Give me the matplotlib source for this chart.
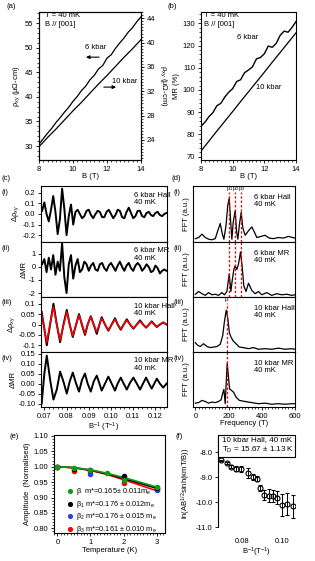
import matplotlib
matplotlib.use('Agg')
import matplotlib.pyplot as plt
from matplotlib.patches import Rectangle
from matplotlib.ticker import MultipleLocator, FormatStrFormatter

plt.rcParams['font.family'] = ['Liberation Sans', 'DejaVu Sans']
plt.rcParams['mathtext.default'] = 'regular'
plt.rcParams['font.size'] = 5.5
plt.rcParams['axes.linewidth'] = 0.8

# (a) Hall resistivity
b_field = [8.0, 8.25, 8.5, 8.75, 9.0, 9.25, 9.5, 9.75, 10.0, 10.25, 10.5, 10.75, 11.0,
           11.25, 11.5, 11.75, 12.0, 12.25, 12.5, 12.75, 13.0, 13.25, 13.5, 13.75, 14.0]
rho_6kbar = [30.4, 31.5, 32.6, 33.6, 34.8, 35.8, 36.9, 37.9, 39.1, 40.1, 41.3, 42.2, 43.5,
             44.4, 45.7, 46.4, 47.9, 48.6, 49.9, 51.0, 52.0, 53.2, 54.1, 55.3, 56.3]
b_field_10 = [8.0, 8.5, 9.0, 9.5, 10.0, 10.5, 11.0, 11.5, 12.0, 12.5, 13.0, 13.5, 14.0]
rho_10kbar = [22.9, 24.4, 25.8, 27.3, 28.8, 30.2, 31.7, 33.2, 34.6, 36.1, 37.6, 39.0, 40.5]

# (b) magnetoresistance
mr_6kbar = [83.7, 85.5, 88.0, 89.8, 92.9, 94.0, 96.8, 99.0, 100.6, 103.8, 104.6, 107.8, 109.0,
            110.4, 114.0, 114.6, 116.3, 119.8, 119.2, 121.0, 124.6, 126.5, 126.0, 128.2, 130.8]
mr_10kbar = [72.5, 77.0, 81.5, 85.9, 90.3, 94.8, 99.2, 103.6, 108.0, 112.5, 116.9, 121.3, 125.7]

# (c) oscillations vs inverse field
inv_b = [0.069, 0.070, 0.071, 0.072, 0.073, 0.074, 0.075, 0.076, 0.077, 0.078, 0.079, 0.080,
         0.081, 0.082, 0.083, 0.084, 0.085, 0.086, 0.087, 0.088, 0.089, 0.090, 0.091, 0.092,
         0.093, 0.094, 0.095, 0.096, 0.097, 0.098, 0.099, 0.100, 0.101, 0.102, 0.103, 0.104,
         0.105, 0.106, 0.107, 0.108, 0.109, 0.110, 0.111, 0.112, 0.113, 0.114, 0.115, 0.116,
         0.117, 0.118, 0.119, 0.120, 0.121, 0.122, 0.123, 0.124, 0.125]
d_rho_6kbar = [0.03, 0.11, 0.00, -0.07, 0.04, 0.17, 0.02, -0.19, -0.05, 0.24, 0.05, -0.20,
               -0.02, 0.09, -0.10, 0.02, 0.04, 0.00, -0.04, -0.02, 0.03, 0.04, -0.01, -0.04,
               0.00, 0.03, 0.02, -0.03, -0.03, 0.02, 0.04, 0.00, -0.04, -0.01, 0.04, 0.03,
               -0.03, -0.04, 0.02, 0.06, 0.01, -0.04, -0.02, 0.03, 0.03, -0.02, -0.03, 0.01,
               0.02, -0.01, -0.02, 0.01, 0.02, -0.01, -0.02, 0.00, 0.01]
d_mr_6kbar = [0.2, 0.6, -0.4, 0.7, -0.2, 0.9, -0.6, 0.4, -0.3, 1.8, -0.8, -2.0,
              0.2, 0.9, -0.9, 0.1, 0.6, -0.4, -0.2, 0.4, 0.2, -0.3, 0.1, 0.3,
              -0.2, -0.3, 0.2, 0.3, -0.1, -0.3, 0.1, 0.3, 0.0, -0.3, 0.1, 0.4,
              0.0, -0.3, 0.1, 0.3, -0.1, -0.3, 0.1, 0.3, 0.1, -0.3, -0.1, 0.2,
              0.0, -0.4, -0.3, 0.1, -0.1, -0.5, -0.3, -0.2, -0.3]
inv_b_10 = [0.0688, 0.0700, 0.0711, 0.0726, 0.0741, 0.0756, 0.0771, 0.0786, 0.0801, 0.0814,
            0.0828, 0.0843, 0.0856, 0.0870, 0.0883, 0.0895, 0.0909, 0.0922, 0.0936, 0.0948,
            0.0958, 0.0973, 0.0988, 0.1003, 0.1018, 0.1030, 0.1044, 0.1057, 0.1071, 0.1086,
            0.1101, 0.1116, 0.1131, 0.1144, 0.1158, 0.1171, 0.1183, 0.1195, 0.1206, 0.1220,
            0.1235, 0.1250]
d_rho_10kbar = [0.06, -0.02, -0.10, 0.00, 0.10, 0.00, -0.085, 0.00, 0.07, 0.00,
                -0.06, 0.00, 0.05, -0.005, -0.05, 0.00, 0.04, 0.00, -0.045, 0.00,
                0.035, 0.00, -0.03, 0.00, 0.03, 0.00, -0.025, 0.00, 0.025, 0.00,
                -0.02, 0.00, 0.02, 0.00, -0.015, 0.00, 0.015, 0.00, -0.012, 0.00,
                0.01, 0.00]
fit_rho_10kbar = [0.05, -0.02, -0.085, 0.005, 0.085, 0.00, -0.075, -0.005, 0.06, 0.00,
                  -0.055, 0.00, 0.045, 0.00, -0.045, 0.00, 0.038, 0.00, -0.035, 0.00,
                  0.03, 0.00, -0.028, 0.00, 0.025, 0.00, -0.022, 0.00, 0.02, 0.00,
                  -0.018, 0.00, 0.016, 0.00, -0.014, 0.00, 0.013, 0.00, -0.011, 0.00,
                  0.01, 0.00]
d_mr_10kbar = [-0.10, 0.05, 0.14, 0.02, -0.08, -0.03, 0.06, 0.01, -0.05, 0.01,
               0.055, 0.00, -0.04, 0.02, 0.05, 0.00, -0.04, 0.01, 0.04, 0.00,
               -0.035, 0.00, 0.035, 0.00, -0.035, 0.00, 0.03, 0.00, -0.03, 0.005,
               0.03, 0.00, -0.03, 0.00, 0.03, 0.00, -0.025, 0.00, 0.025, 0.00,
               -0.02, 0.00]

# (d) FFT spectra
f_6h = [0, 20, 40, 60, 80, 100, 120, 135, 150, 162, 172, 185, 195, 204, 212, 220, 228, 240,
        248, 256, 265, 276, 286, 300, 320, 340, 355, 370, 395, 420, 445, 470, 500, 530, 560, 600]
fft_6h = [0.06, 0.08, 0.14, 0.08, 0.05, 0.04, 0.06, 0.2, 0.33, 0.15, 0.05, 0.3, 0.65, 0.78,
          0.4, 0.05, 0.35, 0.56, 0.2, 0.05, 0.3, 0.53, 0.25, 0.12, 0.2, 0.27, 0.18, 0.08, 0.1,
          0.12, 0.07, 0.06, 0.08, 0.07, 0.1, 0.07]
f_6m = [0, 20, 40, 60, 80, 100, 120, 140, 160, 175, 190, 204, 214, 222, 232, 240, 250, 260,
        272, 282, 292, 305, 320, 340, 360, 380, 400, 430, 460, 490, 520, 550, 580, 600]
fft_6m = [0.05, 0.1, 0.06, 0.03, 0.08, 0.04, 0.05, 0.03, 0.08, 0.04, 0.1, 0.42, 0.1, 0.3,
          0.5, 0.57, 0.5, 0.6, 0.82, 0.55, 0.2, 0.1, 0.25, 0.12, 0.06, 0.1, 0.04, 0.08, 0.03,
          0.06, 0.04, 0.05, 0.03, 0.04]
f_10h = [0, 15, 30, 50, 70, 90, 110, 130, 150, 165, 175, 186, 196, 205, 215, 228, 245, 265,
         290, 320, 350, 380, 420, 460, 500, 540, 580, 600]
fft_10h = [0.17, 0.12, 0.1, 0.15, 0.1, 0.08, 0.09, 0.1, 0.14, 0.3, 0.55, 0.76, 0.6, 0.35,
           0.27, 0.2, 0.15, 0.09, 0.08, 0.06, 0.08, 0.05, 0.06, 0.05, 0.07, 0.05, 0.06, 0.05]
f_10m = [0, 20, 40, 60, 80, 100, 120, 140, 155, 165, 172, 180, 186, 192, 198, 206, 218, 230,
         245, 265, 300, 340, 380, 420, 460, 500, 540, 580, 600]
fft_10m = [0.07, 0.08, 0.12, 0.1, 0.07, 0.09, 0.08, 0.1, 0.13, 0.25, 0.32, 0.06, 0.45, 0.8,
           0.6, 0.33, 0.3, 0.27, 0.18, 0.12, 0.1, 0.08, 0.06, 0.07, 0.05, 0.06, 0.05, 0.06, 0.06]
peaks_6kbar = [204, 240, 276]
peaks_6kbar_names = ['$β_1$', '$β_2$', '$β_3$']
peak_10kbar = 190

# (e) amplitude vs temperature
t_beta = [0, 0.5, 1.0, 1.5, 2.0, 3.0]
amp_beta = [1.0, 0.995, 0.99, 0.98, 0.958, 0.935]
t_beta1 = [0, 0.5, 1.0, 2.0, 3.0]
amp_beta1 = [1.0, 0.993, 0.99, 0.97, 0.932]
t_beta2 = [0, 1.0, 2.0, 3.0]
amp_beta2 = [1.0, 0.976, 0.962, 0.925]
t_beta3 = [0, 0.5, 1.0, 2.0, 3.0]
amp_beta3 = [1.0, 0.986, 0.986, 0.946, 0.927]
t_fit = [0, 0.5, 1.0, 1.5, 2.0, 2.5, 3.0]
fit_beta = [1.0, 0.997, 0.99, 0.979, 0.965, 0.95, 0.934]
fit_beta1 = [1.0, 0.997, 0.989, 0.977, 0.962, 0.946, 0.93]
fit_beta3 = [1.0, 0.997, 0.988, 0.975, 0.958, 0.94, 0.922]
legend_e = ['β  m*=0.165± 0.011m$_e$', '$β_1$ m*=0.176 ± 0.012m$_e$',
            '$β_2$ m*=0.176 ± 0.015 m$_e$', '$β_3$ m*=0.161 ± 0.010 m$_e$']

# (f) Dingle plot
inv_b_f = [0.0697, 0.0725, 0.0747, 0.0772, 0.0795, 0.0833, 0.0858, 0.0875, 0.0892, 0.0912,
           0.0938, 0.0958, 0.0978, 0.1000, 0.1025, 0.1055]
dingle = [-8.33, -8.45, -8.58, -8.67, -8.66, -8.83, -9.0, -9.07, -9.45, -9.72, -9.74, -9.76,
          -9.82, -10.12, -10.08, -10.17]
dingle_err = [0.03, 0.04, 0.06, 0.1, 0.12, 0.2, 0.12, 0.1, 0.12, 0.2, 0.25, 0.25, 0.25,
              0.45, 0.45, 0.45]

W, H = 315.0, 561.0
fig = plt.figure(figsize=(W / 100, H / 100), dpi=100)


def box(l, t, r, b):
    return [l / W, 1 - b / H, (r - l) / W, (b - t) / H]


def ptext(x, y, s, **kw):
    fig.text(x / W, 1 - y / H, s, va='center', **kw)


def ticks(ax):
    ax.tick_params(which='major', length=2.5, width=0.6, pad=1.5, labelsize=5.5)
    ax.tick_params(which='minor', length=1.3, width=0.5)


# ---- (a)
ax_a = fig.add_axes(box(39, 12, 141, 160))
ax_a.plot(b_field, rho_6kbar, color='k', lw=0.9)
ax_a.set_xlim(8, 14)
ax_a.set_ylim(27.15, 57.3)
ax_a.xaxis.set_major_locator(MultipleLocator(2))
ax_a.xaxis.set_minor_locator(MultipleLocator(0.25))
ax_a.yaxis.set_major_locator(MultipleLocator(5))
ax_a.yaxis.set_minor_locator(MultipleLocator(1))
ax_a.set_xlabel('B (T)', labelpad=0)
ax_a.set_ylabel('ρ$_{xy}$ (μΩ-cm)', labelpad=2)
ticks(ax_a)
ax_a2 = ax_a.twinx()
ax_a2.plot(b_field_10, rho_10kbar, color='k', lw=0.9)
ax_a2.set_ylim(20.71, 45.04)
ax_a2.yaxis.set_major_locator(MultipleLocator(4))
ax_a2.yaxis.set_minor_locator(MultipleLocator(0.5))
ax_a2.set_ylabel('ρ$_{xy}$ (μΩ-cm)', rotation=270, va='bottom', labelpad=2)
ticks(ax_a2)
ax_a.text(0.06, 0.975, 'T = 40 mK', transform=ax_a.transAxes, va='center')
ax_a.text(0.06, 0.915, 'B // [001]', transform=ax_a.transAxes, va='center')
ax_a.annotate('', xy=(10.6, 48.1), xytext=(11.7, 48.1),
              arrowprops=dict(arrowstyle='-|>', lw=0.8, color='k', mutation_scale=5))
ax_a.text(10.7, 50.0, '6 kbar', va='center')
ax_a.annotate('', xy=(12.7, 42.0), xytext=(11.65, 42.0),
              arrowprops=dict(arrowstyle='-|>', lw=0.8, color='k', mutation_scale=5))
ax_a.text(12.3, 43.1, '10 kbar', va='center')

# ---- (b)
ax_b = fig.add_axes(box(201, 12, 296, 160))
ax_b.plot(b_field, mr_6kbar, color='k', lw=1.0)
ax_b.plot(b_field_10, mr_10kbar, color='k', lw=0.9)
ax_b.set_xlim(8, 14)
ax_b.set_ylim(68.5, 135.1)
ax_b.xaxis.set_major_locator(MultipleLocator(2))
ax_b.xaxis.set_minor_locator(MultipleLocator(0.25))
ax_b.yaxis.set_major_locator(MultipleLocator(10))
ax_b.yaxis.set_minor_locator(MultipleLocator(2))
ax_b.set_xlabel('B (T)', labelpad=0)
ax_b.set_ylabel('MR (%)', labelpad=2)
ticks(ax_b)
ax_b.text(0.03, 0.975, 'T = 40 mK', transform=ax_b.transAxes, va='center')
ax_b.text(0.03, 0.915, 'B // [001]', transform=ax_b.transAxes, va='center')
ax_b.text(10.3, 123.5, '6 kbar', va='center')
ax_b.text(11.5, 101.0, '10 kbar', va='center')

# ---- (c)
rows = [(186, 242), (242, 297), (297, 352), (352, 407)]
c_x = [inv_b, inv_b, inv_b_10, inv_b_10]
c_y = [d_rho_6kbar, d_mr_6kbar, d_rho_10kbar, d_mr_10kbar]
c_lim = [(-0.265, 0.265), (-2.3, 1.9), (-0.132, 0.132), (-0.117, 0.158)]
c_ticks = [[-0.2, -0.1, 0.0, 0.1, 0.2], [-2, -1, 0, 1], [-0.1, -0.05, 0, 0.05, 0.1],
           [-0.10, -0.05, 0.00, 0.05, 0.10, 0.15]]
c_fmt = ['%.1f', '%d', None, '%.2f']
c_lab = ['Δρ$_{xy}$', 'ΔMR', 'Δρ$_{xy}$', 'ΔMR']
c_txt = ['6 kbar Hall', '6 kbar MR', '10 kbar Hall', '10 kbar MR']
row_names = ['(i)', '(ii)', '(iii)', '(iv)']
for i in range(4):
    ax = fig.add_axes(box(41, rows[i][0], 167, rows[i][1]))
    ax.plot(c_x[i], c_y[i], color='k', lw=1.4)
    if i == 2:
        ax.plot(inv_b_10, fit_rho_10kbar, color='red', lw=1.1)
    ax.set_xlim(0.0685, 0.1252)
    ax.set_ylim(*c_lim[i])
    ax.set_yticks(c_ticks[i])
    if c_fmt[i]:
        ax.yaxis.set_major_formatter(FormatStrFormatter(c_fmt[i]))
    else:
        ax.set_yticklabels(['-0.1', '-0.05', '0', '0.05', '0.1'])
    ax.xaxis.set_major_locator(MultipleLocator(0.01))
    ax.xaxis.set_minor_locator(MultipleLocator(0.002))
    ax.xaxis.set_major_formatter(FormatStrFormatter('%.2f'))
    ticks(ax)
    ax.set_ylabel(c_lab[i], labelpad=1)
    if i < 3:
        ax.tick_params(labelbottom=False)
    else:
        ax.set_xlabel('B$^{-1}$ (T$^{-1}$)', labelpad=1)
    ax.text(0.74, 0.9, c_txt[i] + '\n40 mK', transform=ax.transAxes, va='top',
            linespacing=1.1, clip_on=False)
    ptext(2, rows[i][0] + 6, row_names[i])

# ---- (d)
d_f = [f_6h, f_6m, f_10h, f_10m]
d_a = [fft_6h, fft_6m, fft_10h, fft_10m]
d_axes = []
for i in range(4):
    ax = fig.add_axes(box(193, rows[i][0], 295, rows[i][1]))
    d_axes.append(ax)
    ax.plot(d_f[i], d_a[i], color='k', lw=0.9)
    ax.set_xlim(-14, 600)
    ax.set_ylim(0, 1)
    ax.set_yticks([])
    ax.xaxis.set_major_locator(MultipleLocator(200))
    ax.xaxis.set_minor_locator(MultipleLocator(20))
    ticks(ax)
    ax.set_ylabel('FFT (a.u.)', labelpad=2)
    if i < 2:
        for f in peaks_6kbar:
            ax.axvline(f, color='red', ls=(0, (2, 1.5)), lw=0.9, ymax=0.9 if i == 0 else 1)
    else:
        ax.axvline(peak_10kbar, color='red', ls=(0, (2, 1.5)), lw=0.9, ymax=0.9 if i == 2 else 1)
    if i < 3:
        ax.tick_params(labelbottom=False)
    else:
        ax.set_xlabel('Frequency (T)', labelpad=0)
    ax.text(0.6, 0.86, c_txt[i] + '\n40 mK', transform=ax.transAxes, va='top',
            linespacing=1.1)
    ptext(174, rows[i][0] + 6, row_names[i])
for f, s in zip(peaks_6kbar, peaks_6kbar_names):
    d_axes[0].text(f, 0.95, s, ha='center', va='center', fontsize=4)
d_axes[2].text(peak_10kbar, 0.95, 'β', ha='center', va='center', fontsize=4.5)

# ---- (e)
ax_e = fig.add_axes(box(54, 435, 165, 533))
ax_e.plot(t_fit, fit_beta3, color='red', lw=1.2)
ax_e.plot(t_fit, fit_beta1, color='k', lw=1.2)
ax_e.plot(t_fit, fit_beta, color='#139a13', lw=1.2)
ax_e.scatter(t_beta3, amp_beta3, s=9, color='red', zorder=3, label=legend_e[3])
ax_e.scatter(t_beta2, amp_beta2, s=9, color='#2040ff', zorder=3, label=legend_e[2])
ax_e.scatter(t_beta1, amp_beta1, s=9, color='k', zorder=3, label=legend_e[1])
ax_e.scatter(t_beta, amp_beta, s=9, color='#139a13', zorder=4, label=legend_e[0])
ax_e.set_xlim(-0.1, 3.25)
ax_e.set_ylim(0.785, 1.103)
ax_e.xaxis.set_major_locator(MultipleLocator(1))
ax_e.xaxis.set_minor_locator(MultipleLocator(0.1))
ax_e.yaxis.set_major_locator(MultipleLocator(0.05))
ax_e.yaxis.set_minor_locator(MultipleLocator(0.01))
ax_e.yaxis.set_major_formatter(FormatStrFormatter('%.2f'))
ticks(ax_e)
ax_e.set_xlabel('Temperature (K)', labelpad=1)
ax_e.set_ylabel('Amplitude  (Normalised)', labelpad=2)
hs, ls = ax_e.get_legend_handles_labels()
ax_e.legend(hs[::-1], ls[::-1], loc='upper left', bbox_to_anchor=(0.06, 0.53), frameon=False,
            fontsize=5.3, handletextpad=0.2, labelspacing=0.2, borderpad=0.2,
            handlelength=1.2, markerscale=0.9)

# ---- (f)
ax_f = fig.add_axes(box(218, 435, 295, 532))
ax_f.errorbar(inv_b_f, dingle, yerr=dingle_err, fmt='o', mfc='none', mec='k', ecolor='k',
              ms=3.6, mew=0.8, elinewidth=0.7, capsize=1.5, capthick=0.6)
ax_f.set_xlim(0.068, 0.1067)
ax_f.set_ylim(-11.2, -7.32)
ax_f.set_xticks([0.08, 0.10])
ax_f.set_yticks([-8, -9, -10, -11])
ax_f.xaxis.set_major_formatter(FormatStrFormatter('%.2f'))
ax_f.yaxis.set_major_formatter(FormatStrFormatter('%.1f'))
for side in ['top', 'right', 'bottom']:
    ax_f.spines[side].set_visible(False)
ax_f.spines['left'].set_bounds(-11.0, -7.32)
ticks(ax_f)
ax_f.tick_params(axis='x', length=0, pad=4)
ax_f.set_xlabel('B$^{-1}$(T$^{-1}$)', labelpad=1)
ax_f.set_ylabel('ln(AB$^{1/2}$sinh(κmT/B))', labelpad=2)
ax_f.add_patch(Rectangle((0, 0.77), 1, 0.23, transform=ax_f.transAxes, fc='white', ec='k',
                         lw=0.8, clip_on=False, zorder=5))
ax_f.text(0.05, 0.95, '10 kbar Hall, 40 mK', transform=ax_f.transAxes, va='center',
          fontsize=5.8, zorder=6)
ax_f.text(0.05, 0.85, 'T$_D$ = 15.67 ± 1.13 K', transform=ax_f.transAxes, va='center',
          fontsize=5.8, zorder=6)

# panel labels
ptext(6, 6, '(a)')
ptext(168, 6, '(b)')
ptext(2, 178, '(c)')
ptext(172, 178, '(d)')
ptext(10, 437, '(e)')
ptext(176, 437, '(f)')

fig.savefig('out.png', dpi=100)
